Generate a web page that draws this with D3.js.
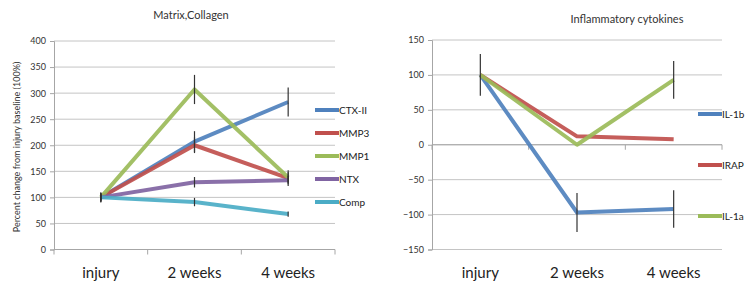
<!DOCTYPE html>
<html>
<head>
<meta charset="utf-8">
<script src="https://cdn.jsdelivr.net/npm/d3@7"></script>
<style>
  body { margin: 0; background: #fff; }
  svg { display: block; font-family: Lato, "Open Sans", sans-serif; }
</style>
</head>
<body>
<script>
const categories = ["injury", "2 weeks", "4 weeks"];

// left panel: Matrix,Collagen
const matrixNames = ["CTX-II", "MMP3", "MMP1", "NTX", "Comp"];
const matrixValues = [
  [100, 207, 283],
  [100, 200, 137],
  [100, 307, 138],
  [100, 129, 133],
  [100, 91, 68]
];
const matrixErrors = [
  [8, 20, 28],
  [8, 15, 15],
  [10, 28, 10],
  [8, 10, 8],
  [5, 8, 5]
];
const matrixTicks = [0, 50, 100, 150, 200, 250, 300, 350, 400];

// right panel: Inflammatory cytokines
const cytoNames = ["IL-1b", "IRAP", "IL-1a"];
const cytoValues = [
  [100, -97, -92],
  [100, 12, 8],
  [100, 0, 93]
];
const cytoErrors = [
  [30, 28, 27],
  [0, 0, 0],
  [0, 0, 27]
];
const cytoTicks = [-150, -100, -50, 0, 50, 100, 150];

const matrixColors = ["#4f81bd", "#c0504d", "#9bbb59", "#8064a2", "#4bacc6"];
const cytoColors = ["#4f81bd", "#c0504d", "#9bbb59"];

const svg = d3.select("body").append("svg")
  .attr("width", 748)
  .attr("height", 284);

function drawPanel(opt) {
  const g = svg.append("g");
  const x = d3.scaleBand().domain(categories).range([opt.left, opt.right]);
  const y = d3.scaleLinear().domain(d3.extent(opt.ticks)).range([opt.bottom, opt.top]);

  // gridlines
  g.append("g")
    .selectAll("line")
    .data(opt.ticks)
    .enter()
    .append("line")
    .attr("x1", opt.left)
    .attr("x2", opt.right)
    .attr("y1", d => y(d))
    .attr("y2", d => y(d))
    .attr("stroke", "#c4c4c4")
    .attr("stroke-width", 1);

  // y axis
  const yAxis = g.append("g")
    .attr("transform", `translate(${opt.left},0)`)
    .call(d3.axisLeft(y).tickValues(opt.ticks).tickSize(4).tickPadding(4));
  yAxis.select(".domain").attr("stroke", "#a6a6a6");
  yAxis.selectAll(".tick line").attr("stroke", "#a6a6a6");
  yAxis.selectAll("text")
    .style("font-family", "Lato, sans-serif")
    .style("font-size", "9px")
    .attr("fill", "#333");

  // category axis (line at y = 0 with ticks between categories)
  const y0 = y(0);
  g.append("line")
    .attr("x1", opt.left).attr("x2", opt.right)
    .attr("y1", y0).attr("y2", y0)
    .attr("stroke", "#a6a6a6");
  const bounds = categories.map(c => x(c)).concat([x.range()[1]]);
  g.append("g")
    .selectAll("line")
    .data(bounds)
    .enter()
    .append("line")
    .attr("x1", d => d).attr("x2", d => d)
    .attr("y1", y0).attr("y2", y0 + 5)
    .attr("stroke", "#a6a6a6");

  // category labels at the bottom
  g.append("g")
    .selectAll("text")
    .data(categories)
    .enter()
    .append("text")
    .attr("x", d => x(d) + x.bandwidth() / 2)
    .attr("y", 278)
    .attr("text-anchor", "middle")
    .style("font-size", "15px")
    .attr("fill", "#222")
    .text(d => d);

  const cx = c => x(c) + x.bandwidth() / 2;

  // lines
  const line = d3.line()
    .x((d, i) => cx(categories[i]))
    .y(d => y(d));
  g.append("g")
    .selectAll("path")
    .data(opt.values)
    .enter()
    .append("path")
    .attr("d", d => line(d))
    .attr("fill", "none")
    .attr("stroke", (d, i) => opt.colors[i])
    .attr("stroke-width", 4)
    .attr("stroke-linejoin", "round")
    .attr("opacity", 0.92);

  // error bars
  const bars = [];
  opt.values.forEach((vals, s) => {
    vals.forEach((v, i) => {
      const e = opt.errors[s][i];
      if (e > 0) bars.push({ c: categories[i], v: v, e: e });
    });
  });
  g.append("g")
    .selectAll("line")
    .data(bars)
    .enter()
    .append("line")
    .attr("x1", d => cx(d.c)).attr("x2", d => cx(d.c))
    .attr("y1", d => y(d.v - d.e)).attr("y2", d => y(d.v + d.e))
    .attr("stroke", "#333")
    .attr("stroke-width", 1.2);

  // legend
  const leg = g.append("g")
    .selectAll("g")
    .data(opt.names)
    .enter()
    .append("g")
    .attr("transform", (d, i) => `translate(${opt.legendX},${opt.legendY + i * opt.legendStep})`);
  leg.append("line")
    .attr("x1", 0).attr("x2", 24)
    .attr("stroke", (d, i) => opt.colors[i])
    .attr("stroke-width", 4);
  leg.append("text")
    .attr("x", 24)
    .attr("dy", "0.35em")
    .style("font-size", "10px")
    .attr("fill", "#222")
    .text(d => d);

  // title
  g.append("text")
    .attr("x", opt.titleX)
    .attr("y", opt.titleY)
    .attr("text-anchor", "middle")
    .style("font-size", "11px")
    .attr("fill", "#333")
    .text(opt.title);
}

drawPanel({
  left: 54, right: 335, top: 41, bottom: 249.5,
  ticks: matrixTicks, values: matrixValues, errors: matrixErrors,
  names: matrixNames, colors: matrixColors,
  legendX: 315, legendY: 110, legendStep: 23,
  title: "Matrix,Collagen", titleX: 191, titleY: 19
});

drawPanel({
  left: 432, right: 722, top: 40, bottom: 249.5,
  ticks: cytoTicks, values: cytoValues, errors: cytoErrors,
  names: cytoNames, colors: cytoColors,
  legendX: 698, legendY: 114, legendStep: 51,
  title: "Inflammatory cytokines", titleX: 627, titleY: 23
});

// y axis title of the left panel
svg.append("text")
  .attr("transform", "translate(20,147) rotate(-90)")
  .attr("text-anchor", "middle")
  .style("font-size", "9px")
  .attr("fill", "#333")
  .text("Percent change from injury baseline (100%)");
</script>
</body>
</html>
